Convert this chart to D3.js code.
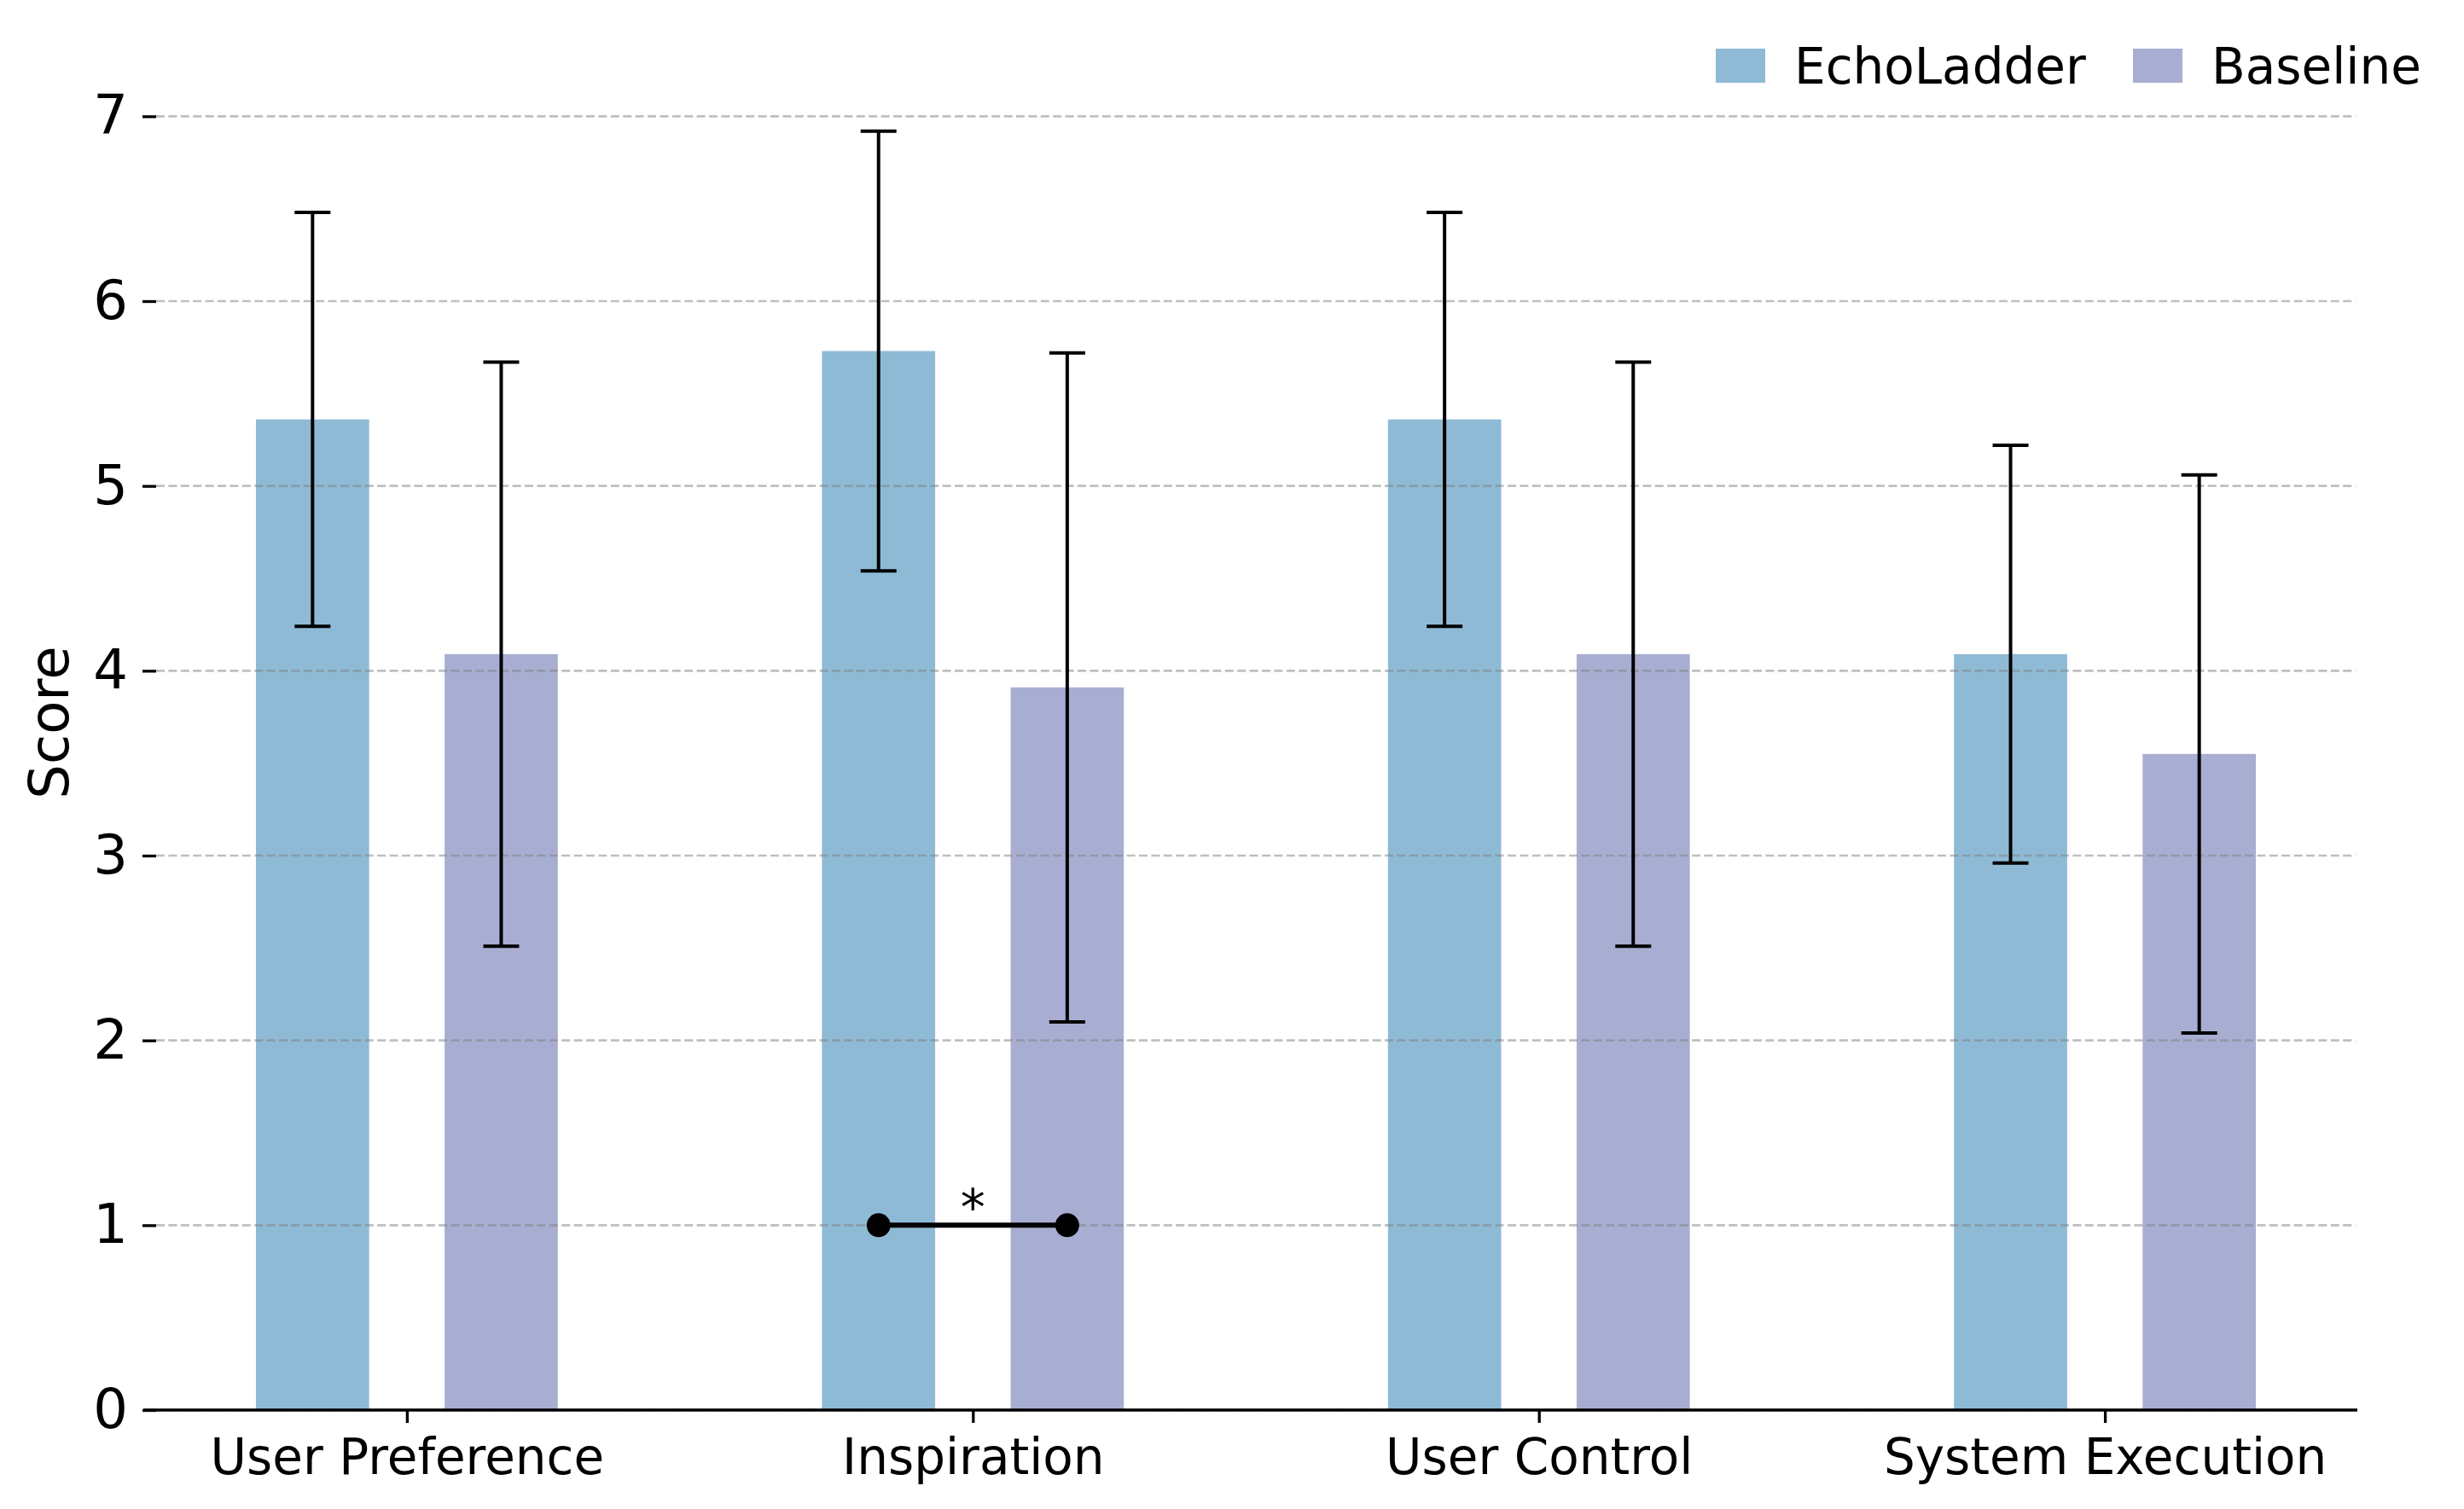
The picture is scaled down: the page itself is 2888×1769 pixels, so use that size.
<!DOCTYPE html>
<html>
<head>
<meta charset="utf-8">
<script src="https://cdn.jsdelivr.net/npm/d3@7"></script>
<style>
	body { margin: 0; background: #fff; }
	svg { display: block; font-family: 'DejaVu Sans', sans-serif; }
</style>
</head>
<body>
<div id="chart"></div>
<script>
	var categories = ['User Preference', 'Inspiration', 'User Control', 'System Execution'];
	var seriesNames = ['EchoLadder', 'Baseline'];
	var echoMeans = [5.36, 5.73, 5.36, 4.09];
	var echoSd = [1.12, 1.19, 1.12, 1.13];
	var baseMeans = [4.09, 3.91, 4.09, 3.55];
	var baseSd = [1.58, 1.81, 1.58, 1.51];
	var yTicks = [0, 1, 2, 3, 4, 5, 6, 7];
	var sigCategory = 'Inspiration';
	var sigLevel = 1;
	var sigLabel = '*';

	var colors = { EchoLadder: '#8fbad5', Baseline: '#a8aed2' };

	var fullWidth = 2888;
	var fullHeight = 1769;
	var margin = { top: 41, right: 127, bottom: 116, left: 183 };
	var width = fullWidth - margin.left - margin.right;
	var height = fullHeight - margin.top - margin.bottom;

	var svg = d3.select('#chart')
		.append('svg')
		.attr('width', fullWidth)
		.attr('height', fullHeight)
		.attr('viewBox', '0 0 ' + fullWidth + ' ' + fullHeight);

	var x = d3.scalePoint()
		.domain(categories)
		.range([0, width])
		.padding(0.443);

	var y = d3.scaleLinear()
		.domain([0, 7.44])
		.range([height, 0]);

	var step = x.step();
	var barWidth = step * 0.2;
	var offset = { EchoLadder: -step / 6, Baseline: step / 6 };

	var rows = [];
	categories.forEach(function(c, i) {
		rows.push({ cat: c, series: 'EchoLadder', mean: echoMeans[i], sd: echoSd[i] });
		rows.push({ cat: c, series: 'Baseline', mean: baseMeans[i], sd: baseSd[i] });
	});

	var chartArea = svg.append('g')
		.attr('transform', 'translate(' + margin.left + ',' + margin.top + ')');

	// bars
	chartArea.selectAll('rect.bar')
		.data(rows)
		.enter().append('rect')
		.attr('class', 'bar')
		.attr('x', function(d) { return x(d.cat) + offset[d.series] - barWidth / 2; })
		.attr('y', function(d) { return y(d.mean); })
		.attr('width', barWidth)
		.attr('height', function(d) { return y(0) - y(d.mean); })
		.attr('fill', function(d) { return colors[d.series]; });

	// grid (drawn over the bars, like the original)
	chartArea.selectAll('line.grid')
		.data(yTicks)
		.enter().append('line')
		.attr('class', 'grid')
		.attr('x1', 0)
		.attr('x2', width)
		.attr('y1', function(d) { return y(d); })
		.attr('y2', function(d) { return y(d); })
		.attr('stroke', '#808080')
		.attr('stroke-opacity', 0.5)
		.attr('stroke-width', 2.7)
		.attr('stroke-dasharray', '10,4.4');

	// error bars
	var errs = chartArea.selectAll('g.err')
		.data(rows)
		.enter().append('g')
		.attr('class', 'err')
		.attr('transform', function(d) { return 'translate(' + (x(d.cat) + offset[d.series]) + ',0)'; });

	errs.append('line')
		.attr('x1', 0).attr('x2', 0)
		.attr('y1', function(d) { return y(d.mean - d.sd); })
		.attr('y2', function(d) { return y(d.mean + d.sd); })
		.attr('stroke', '#000')
		.attr('stroke-width', 4);

	errs.selectAll('line.cap')
		.data(function(d) { return [d.mean - d.sd, d.mean + d.sd]; })
		.enter().append('line')
		.attr('class', 'cap')
		.attr('x1', -21).attr('x2', 21)
		.attr('y1', function(v) { return y(v); })
		.attr('y2', function(v) { return y(v); })
		.attr('stroke', '#000')
		.attr('stroke-width', 4);

	// significance marker
	var sx1 = x(sigCategory) + offset.EchoLadder;
	var sx2 = x(sigCategory) + offset.Baseline;
	chartArea.append('line')
		.attr('x1', sx1).attr('x2', sx2)
		.attr('y1', y(sigLevel)).attr('y2', y(sigLevel))
		.attr('stroke', '#000')
		.attr('stroke-width', 6);
	chartArea.selectAll('circle.sig')
		.data([sx1, sx2])
		.enter().append('circle')
		.attr('cx', function(d) { return d; })
		.attr('cy', y(sigLevel))
		.attr('r', 14)
		.attr('fill', '#000');
	chartArea.append('text')
		.attr('x', x(sigCategory))
		.attr('y', y(sigLevel))
		.attr('text-anchor', 'middle')
		.style('font-size', '58px')
		.text(sigLabel);

	// axes
	var yAxis = d3.axisLeft(y)
		.tickValues(yTicks)
		.tickSize(16)
		.tickPadding(17);

	var xAxis = d3.axisBottom(x)
		.tickSize(15)
		.tickPadding(19);

	var yg = chartArea.append('g')
		.attr('class', 'y axis')
		.call(yAxis);
	yg.select('.domain').remove();
	yg.selectAll('line').attr('stroke-width', 3.3);
	yg.selectAll('text').style('font-size', '64px').attr('fill', '#000').style('font-family', 'DejaVu Sans');

	var xg = chartArea.append('g')
		.attr('class', 'x axis')
		.attr('transform', 'translate(0,' + height + ')')
		.call(xAxis);
	xg.select('.domain').remove();
	xg.selectAll('line').attr('stroke-width', 3.3);
	xg.selectAll('text').style('font-size', '58px').attr('fill', '#000').style('font-family', 'DejaVu Sans');

	chartArea.append('line')
		.attr('x1', -15)
		.attr('x2', width + 2)
		.attr('y1', height)
		.attr('y2', height)
		.attr('stroke', '#000')
		.attr('stroke-width', 3.3);

	svg.append('text')
		.attr('transform', 'translate(80,' + (margin.top + height / 2) + ') rotate(-90)')
		.attr('text-anchor', 'middle')
		.style('font-size', '64px')
		.text('Score');

	// legend
	var legendX = [2011, 2500];
	var legend = svg.selectAll('g.legend')
		.data(seriesNames)
		.enter().append('g')
		.attr('class', 'legend')
		.attr('transform', function(d, i) { return 'translate(' + legendX[i] + ',57)'; });
	legend.append('rect')
		.attr('width', 58)
		.attr('height', 40)
		.attr('fill', function(d) { return colors[d]; });
	legend.append('text')
		.attr('x', 92)
		.attr('y', 41)
		.style('font-size', '58px')
		.text(function(d) { return d; });
</script>
</body>
</html>
